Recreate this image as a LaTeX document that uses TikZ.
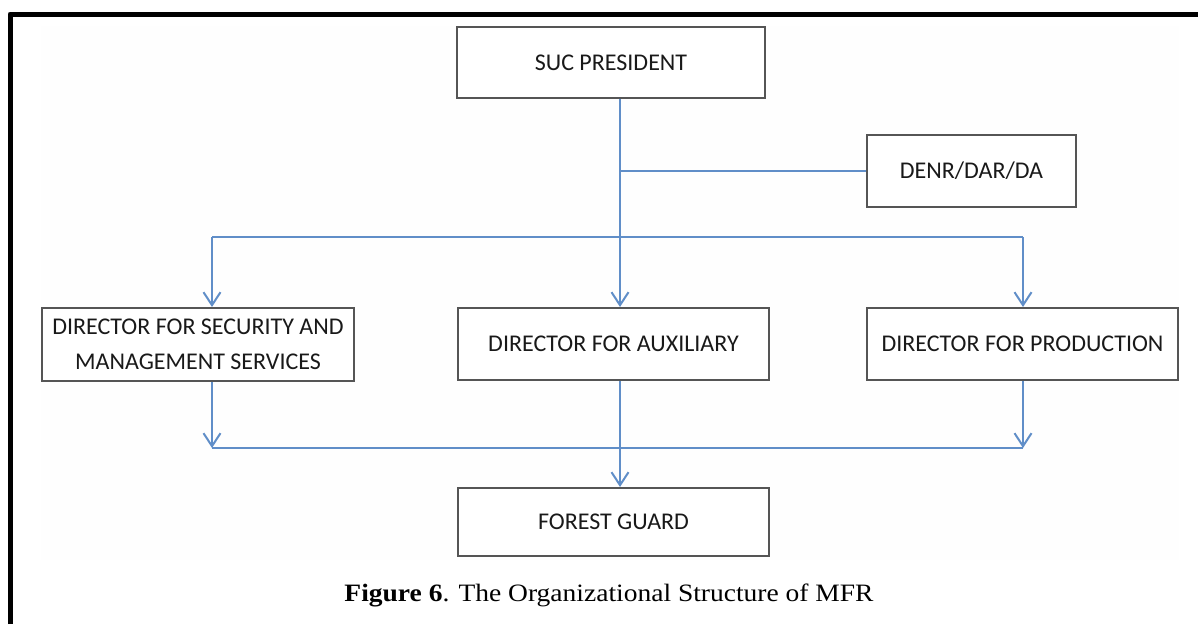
\documentclass[tikz,border=0pt]{standalone}
\usepackage{fontspec}
\setmainfont{Liberation Serif}
\newfontfamily\capfont[FakeStretch=1.1]{Liberation Serif}
\newfontfamily\boxfont{Carlito}
\usetikzlibrary{arrows.meta}
\definecolor{linkblue}{RGB}{96,142,200}
\definecolor{boxline}{RGB}{85,85,85}
\tikzset{
  orgbox/.style={draw=boxline, line width=2pt, fill=white, inner sep=0pt,
    font=\boxfont\fontsize{24}{35}\selectfont, text=black!90, align=center},
  link/.style={draw=linkblue, line width=2pt},
  linkarr/.style={link, -{Straight Barb[length=13pt,width=17pt,line width=2pt]}}
}
\begin{document}
\begin{tikzpicture}[x=1pt,y=-1pt]
\useasboundingbox (0,0) rectangle (1198,624);
\fill[white] (0,0) rectangle (1198,624);
\fill[black!0.4] (41,26) rectangle (1179,560);
\draw[line width=5pt, line join=round] (10,624) -- (10,14) -- (1198,14);

\node[orgbox, minimum width=308pt, minimum height=71pt] (pres) at (611,62.5) {SUC PRESIDENT};
\node[orgbox, minimum width=209pt, minimum height=72pt] (denr) at (971.5,171) {DENR/DAR/DA};
\node[orgbox, minimum width=312pt, minimum height=73pt] (sec) at (198,344.5) {DIRECTOR FOR SECURITY AND\\MANAGEMENT SERVICES};
\node[orgbox, minimum width=311pt, minimum height=72pt] (aux) at (613.5,344) {DIRECTOR FOR AUXILIARY};
\node[orgbox, minimum width=311pt, minimum height=72pt] (prod) at (1022.5,344) {DIRECTOR FOR PRODUCTION};
\node[orgbox, minimum width=311pt, minimum height=68pt] (fg) at (613.5,522) {FOREST GUARD};

\coordinate (spine) at (620,0);
\coordinate (lt) at (212,237);
\coordinate (rt) at (1023,237);
\coordinate (lb) at (212,448);
\coordinate (rb) at (1023,448);

\draw[linkarr] (pres.south -| spine) -- (aux.north -| spine);
\draw[link] (denr.west) -- (denr.west -| spine);
\draw[link] (lt) -- (rt);
\draw[linkarr] (lt) -- (sec.north -| lt);
\draw[linkarr] (rt) -- (prod.north -| rt);
\draw[linkarr] (sec.south -| lb) -- (lb);
\draw[linkarr] (prod.south -| rb) -- (rb);
\draw[link] (lb) -- (rb);
\draw[linkarr] (aux.south -| spine) -- (fg.north -| spine);

\node[font=\capfont\fontsize{25}{30}\selectfont, anchor=base, inner sep=0pt] (cap) at (609,601) {\textbf{Figure 6}. The Organizational Structure of MFR};
\end{tikzpicture}
\end{document}
